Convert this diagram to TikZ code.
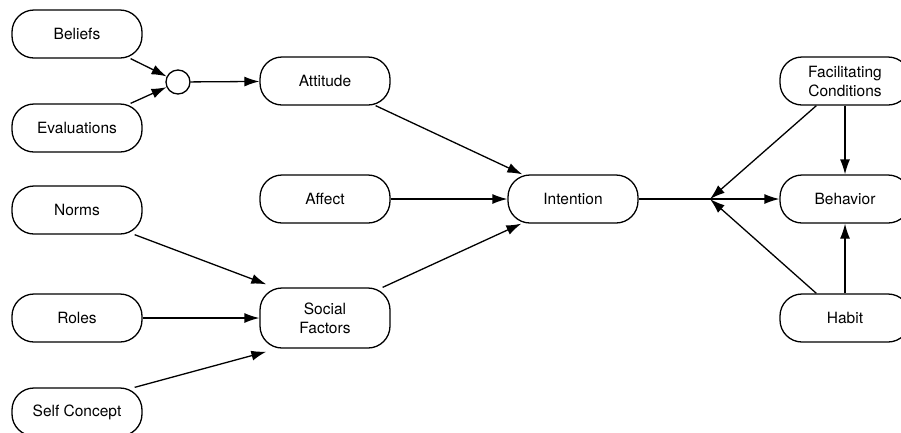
\documentclass[tikz,border=0pt]{standalone}
\usepackage{fontspec}
\setmainfont{TeX Gyre Heros}
\usetikzlibrary{arrows.meta}
\begin{document}
\begin{tikzpicture}[x=1pt,y=-1pt,
  box/.style={draw, line width=1.3pt, rounded corners=22pt, minimum width=130pt, minimum height=48pt, inner sep=0pt, align=center, font=\fontsize{15.5}{19}\selectfont},
  tallbox/.style={box, minimum height=60pt},
  arr/.style={line width=1.3pt, -{Latex[length=15pt,width=10pt]}},
  ln/.style={line width=1.3pt}]
\useasboundingbox (0,0) rectangle (901,432);
\node[box] (bel) at (77,34) {Beliefs};
\node[box] (eva) at (77,128) {Evaluations};
\node[draw, circle, line width=1.3pt, minimum size=24pt, inner sep=0pt] (c) at (178,82) {};
\node[box] (att) at (325,81) {Attitude};
\node[box] (aff) at (325,199) {Affect};
\node[box] (int) at (573,199) {Intention};
\node[box] (nor) at (77,210) {Norms};
\node[box] (rol) at (77,318) {Roles};
\node[tallbox] (soc) at (325,318) {Social\\Factors};
\node[box] (sel) at (77,412) {Self Concept};
\node[box] (fac) at (845,81) {Facilitating\\Conditions};
\node[box] (beh) at (845,199) {Behavior};
\node[box] (hab) at (845,318) {Habit};
\coordinate (j) at (710,199);

\draw[arr] ([xshift=-12pt]bel.south east) -- (c);
\draw[arr] ([xshift=-12pt]eva.north east) -- (c);
\draw[arr] (c) -- (att);
\draw[arr] ([xshift=-15pt]att.south east) -- ([xshift=15pt]int.north west);
\draw[arr] (aff) -- (int);
\draw[arr] ([xshift=-8pt]soc.north east) -- ([xshift=14pt]int.south west);
\draw[arr] ([xshift=-8pt]nor.south east) -- ([xshift=7pt,yshift=3pt]soc.north west);
\draw[arr] (rol) -- (soc);
\draw[arr] ([xshift=-8pt]sel.north east) -- ([xshift=7pt,yshift=-3pt]soc.south west);
\draw[ln] (int) -- (j);
\draw[arr] (j) -- (beh);
\draw[arr] ([xshift=37pt]fac.south west) -- (j);
\draw[arr] ([xshift=37pt]hab.north west) -- (j);
\draw[arr] (fac) -- (beh);
\draw[arr] (hab) -- (beh);
\end{tikzpicture}
\end{document}
